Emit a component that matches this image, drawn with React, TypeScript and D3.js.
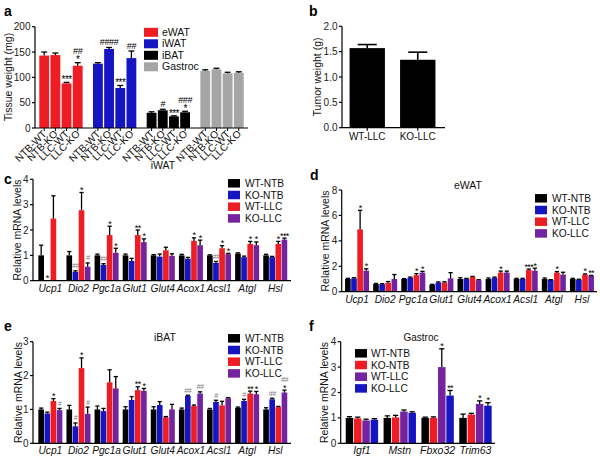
import React from "react";
import * as d3 from "d3";

const FONT = "Arial, 'Liberation Sans', Helvetica, sans-serif";
const RED = "#ee1d23";
const BLUE = "#1515c2";
const BLACK = "#000000";
const PURPLE = "#7322a0";
const GRAY = "#a5a5a5";
const HASH = "#808080";

// ---------- Panel a ----------
const tissuesA = ["eWAT", "iWAT", "iBAT", "Gastroc"];
const conditionsA = ["NTB-WT", "NTB-KO", "LLC-WT", "LLC-KO"];
const colorsA = [RED, BLUE, BLACK, GRAY];
const valuesA = [
  [143, 144, 88, 123],
  [127, 156, 79, 138],
  [30, 35, 23, 31],
  [113, 116, 108, 109],
];
const errorsA = [
  [7, 4, 2, 6],
  [2, 3, 5, 14],
  [2, 2, 1, 2],
  [2, 2, 2, 2],
];
const marksA = [
  ["", "", "***", "*|##"],
  ["", "####", "***", "##"],
  ["", "#", "***", "*|###"],
  ["", "", "", ""],
];
const ticksA = [0, 50, 100, 150, 200];

// ---------- Panel b ----------
const groupsB = ["WT-LLC", "KO-LLC"];
const valuesB = [1.57, 1.34];
const errorsB = [0.07, 0.15];
const ticksB = [0, 0.5, 1.0, 1.5, 2.0];

// ---------- Panels c, d, e ----------
const genesCDE = ["Ucp1", "Dio2", "Pgc1a", "Glut1", "Glut4", "Acox1", "Acsl1", "Atgl", "Hsl"];
const seriesCDE = ["WT-NTB", "KO-NTB", "WT-LLC", "KO-LLC"];
const colorsCDE = [BLACK, BLUE, RED, PURPLE];

const valuesC = [
  [1.0, 0.02, 2.45, 0.02],
  [1.0, 0.35, 2.78, 0.55],
  [1.0, 0.62, 1.8, 1.1],
  [1.0, 0.78, 1.8, 1.52],
  [1.0, 0.95, 1.2, 0.98],
  [1.0, 0.87, 1.57, 1.4],
  [1.0, 0.7, 1.28, 1.05],
  [1.07, 0.93, 1.45, 1.4],
  [1.0, 0.93, 1.45, 1.62],
];
const errorsC = [
  [0.4, 0.0, 0.9, 0.0],
  [0.15, 0.04, 0.7, 0.15],
  [0.05, 0.05, 0.35, 0.18],
  [0.05, 0.1, 0.2, 0.13],
  [0.03, 0.1, 0.12, 0.08],
  [0.04, 0.05, 0.12, 0.2],
  [0.02, 0.06, 0.1, 0.03],
  [0.03, 0.04, 0.1, 0.13],
  [0.04, 0.03, 0.1, 0.06],
];
const marksC = [
  ["", "*", "", ""],
  ["", "##", "*", "#"],
  ["", "##", "*", "*"],
  ["", "", "**", "*"],
  ["", "", "", ""],
  ["", "", "*", "*"],
  ["", "##", "*", "*"],
  ["", "", "*", "*"],
  ["", "", "*", "***"],
];
const ticksC = [0, 1, 2, 3, 4];

const valuesD = [
  [1.0, 1.05, 4.9, 1.65],
  [0.6, 0.6, 0.7, 1.0],
  [1.0, 1.1, 1.3, 1.5],
  [0.55, 0.72, 0.72, 1.05],
  [1.0, 1.0, 1.15, 0.9],
  [1.0, 1.1, 1.5, 1.5],
  [1.0, 1.0, 1.7, 1.65],
  [1.0, 0.92, 1.5, 1.35],
  [1.0, 0.95, 1.35, 1.25],
];
const errorsD = [
  [0.05, 0.05, 1.5, 0.15],
  [0.05, 0.03, 0.1, 0.35],
  [0.03, 0.05, 0.12, 0.1],
  [0.03, 0.05, 0.06, 0.45],
  [0.1, 0.05, 0.05, 0.05],
  [0.08, 0.05, 0.12, 0.12],
  [0.05, 0.05, 0.08, 0.2],
  [0.08, 0.03, 0.08, 0.18],
  [0.05, 0.03, 0.05, 0.03],
];
const marksD = [
  ["", "", "*", "*"],
  ["", "", "", ""],
  ["", "", "*", "*"],
  ["", "", "", ""],
  ["", "", "", ""],
  ["", "", "*", ""],
  ["", "", "***", "*"],
  ["", "", "*", ""],
  ["", "", "*", "**"],
];
const ticksD = [0, 2, 4, 6, 8];

const valuesE = [
  [1.0, 0.88, 1.25, 0.98],
  [1.0, 0.5, 2.22, 0.87],
  [1.0, 0.95, 1.8, 1.62],
  [1.0, 1.28, 1.57, 1.55],
  [1.0, 1.13, 0.77, 1.0],
  [1.0, 1.4, 1.1, 1.47],
  [1.0, 1.22, 1.12, 1.33],
  [1.05, 1.25, 1.47, 1.45],
  [1.0, 1.3, 1.07, 1.5],
];
const errorsE = [
  [0.04, 0.04, 0.07, 0.05],
  [0.12, 0.1, 0.3, 0.2],
  [0.1, 0.08, 0.37, 0.35],
  [0.08, 0.1, 0.1, 0.07],
  [0.08, 0.1, 0.02, 0.15],
  [0.04, 0.02, 0.03, 0.05],
  [0.03, 0.05, 0.12, 0.02],
  [0.02, 0.05, 0.07, 0.08],
  [0.05, 0.03, 0.02, 0.07],
];
const marksE = [
  ["", "", "*", "#"],
  ["", "#", "*", "#"],
  ["", "", "", ""],
  ["", "", "**", "*"],
  ["", "", "", ""],
  ["", "##", "", "##"],
  ["", "#", "", ""],
  ["", "#", "**", "*"],
  ["", "##", "", "*|##"],
];
const ticksE = [0, 1, 2, 3];

// ---------- Panel f ----------
const genesF = ["Igf1", "Mstn", "Fbxo32", "Trim63"];
const seriesF = ["WT-NTB", "KO-NTB", "WT-LLC", "KO-LLC"];
const colorsF = [BLACK, RED, PURPLE, BLUE];
const valuesF = [
  [1.0, 0.98, 0.9, 0.93],
  [1.0, 1.02, 1.25, 1.2],
  [1.0, 1.0, 3.0, 1.88],
  [1.0, 1.13, 1.55, 1.48],
];
const errorsF = [
  [0.05, 0.05, 0.05, 0.04],
  [0.08, 0.08, 0.06, 0.04],
  [0.03, 0.04, 0.72, 0.2],
  [0.15, 0.05, 0.12, 0.12],
];
const marksF = [
  ["", "", "", ""],
  ["", "", "", ""],
  ["", "", "*", "**"],
  ["", "", "*", "*"],
];
const ticksF = [0, 1, 2, 3, 4];

type PanelProps = {
  groups: string[];
  series: string[];
  values: number[][];
  errors: number[][];
  marks: string[][];
  colors: string[];
  colorByGroup?: boolean;
  axisX0: number;
  axisX1: number;
  bandX0: number;
  bandX1: number;
  padInner: number;
  padOuter: number;
  innerPad: number;
  yTop: number;
  yBottom: number;
  yMax: number;
  ticks: number[];
  rotatedLabels?: boolean;
  capFrac: number;
  hashColor: string;
  starSize: number;
  hashSize: number;
  labelSize?: number;
};

function GroupedBars(p: PanelProps) {
  const x0 = d3.scaleBand<string>().domain(p.groups).range([p.bandX0, p.bandX1]).paddingInner(p.padInner).paddingOuter(p.padOuter);
  const x1 = d3.scaleBand<string>().domain(p.series).range([0, x0.bandwidth()]).paddingInner(p.innerPad);
  const y = d3.scaleLinear().domain([0, p.yMax]).range([p.yBottom, p.yTop]);
  const bw = x1.bandwidth();
  const cap = bw * p.capFrac;
  const els: React.ReactNode[] = [];
  p.groups.forEach((g, gi) => {
    p.series.forEach((s, si) => {
      const v = p.values[gi][si];
      const e = p.errors[gi][si];
      const bx = (x0(g) as number) + (x1(s) as number);
      const cx = bx + bw / 2;
      const color = p.colorByGroup ? p.colors[gi] : p.colors[si];
      els.push(
        <rect key={`b${gi}-${si}`} x={bx} y={y(v)} width={bw} height={Math.max(0.8, y(0) - y(v))} fill={color} />
      );
      if (e > 0) {
        els.push(
          <g key={`e${gi}-${si}`} stroke="#000" strokeWidth={1.3}>
            <line x1={cx} x2={cx} y1={y(v)} y2={y(v + e)} />
            <line x1={cx - cap / 2} x2={cx + cap / 2} y1={y(v + e)} y2={y(v + e)} />
          </g>
        );
      }
      const m = p.marks[gi][si];
      if (m) {
        const lines = m.split("|");
        let cursor = y(v + e) - 1;
        lines.forEach((t, li) => {
          const isStar = t.startsWith("*");
          let base: number;
          if (isStar) {
            base = cursor + 0.3 * p.starSize - 1.2;
            cursor = base - 0.75 * p.starSize;
          } else {
            base = cursor - 1.5;
            cursor = base - 0.75 * p.hashSize;
          }
          els.push(
            <text
              key={`m${gi}-${si}-${li}`}
              x={cx}
              y={base}
              textAnchor="middle"
              fontSize={isStar ? p.starSize : p.hashSize}
              fontStyle={!isStar && p.hashColor !== "#000" ? "italic" : "normal"}
              fill={isStar ? "#000" : p.hashColor}
              letterSpacing={isStar ? -0.6 : -0.4}
            >
              {t}
            </text>
          );
        });
      }
      if (p.rotatedLabels) {
        els.push(
          <line key={`xt${gi}-${si}`} x1={cx} x2={cx} y1={p.yBottom} y2={p.yBottom + 3} stroke="#000" strokeWidth={1} />
        );
        els.push(
          <text
            key={`xl${gi}-${si}`}
            transform={`translate(${cx + 3},${p.yBottom + 6.5}) rotate(-45)`}
            textAnchor="end"
            fontSize={10.2}
            fill="#111"
          >
            {s}
          </text>
        );
      }
    });
    if (!p.rotatedLabels) {
      const gc = (x0(g) as number) + x0.bandwidth() / 2;
      els.push(
        <text key={`gl${gi}`} x={gc} y={p.yBottom + 11} textAnchor="middle" fontSize={p.labelSize || 10.5} fontStyle="italic" fill="#111">
          {g}
        </text>
      );
    }
  });
  return (
    <g>
      {els}
      <line x1={p.axisX0} x2={p.axisX1} y1={p.yBottom} y2={p.yBottom} stroke="#000" strokeWidth={1.2} />
      <line x1={p.axisX0} x2={p.axisX0} y1={p.yTop} y2={p.yBottom} stroke="#000" strokeWidth={1.2} />
      {p.ticks.map((t) => (
        <g key={`yt${t}`}>
          <line x1={p.axisX0 - 3} x2={p.axisX0} y1={y(t)} y2={y(t)} stroke="#000" strokeWidth={1.2} />
          <text x={p.axisX0 - 4.5} y={y(t)} dy="0.35em" textAnchor="end" fontSize={10} fill="#222">
            {String(t)}
          </text>
        </g>
      ))}
    </g>
  );
}

function Legend({ x, y0, step, items, colors, w, h, textX, fontSize }: any) {
  return (
    <g>
      {items.map((it: string, i: number) => (
        <g key={it}>
          <rect x={x} y={y0 + i * step - h / 2} width={w} height={h} fill={colors[i]} />
          <text x={textX} y={y0 + i * step} dy="0.35em" fontSize={fontSize} fill="#111">
            {it}
          </text>
        </g>
      ))}
    </g>
  );
}

function YTitle({ x, y, text }: { x: number; y: number; text: string }) {
  return (
    <text transform={`translate(${x},${y}) rotate(-90)`} textAnchor="middle" fontSize={10.5} fill="#111">
      {text}
    </text>
  );
}

function PanelLabel({ x, y, t }: { x: number; y: number; t: string }) {
  return (
    <text x={x} y={y} fontSize={14} fontWeight="bold" fill="#000">
      {t}
    </text>
  );
}

export default function App() {
  const xb = d3.scaleBand<string>().domain(groupsB).range([342, 443]).paddingInner(0.3).paddingOuter(0.15);
  const yb = d3.scaleLinear().domain([0, 2]).range([127.7, 26.3]);
  const cdeCommon = {
    groups: genesCDE,
    series: seriesCDE,
    colors: colorsCDE,
    padInner: 0.146,
    padOuter: 0.073,
    innerPad: 0.08,
    capFrac: 0.75,
    hashColor: HASH,
    starSize: 9,
    hashSize: 7,
    labelSize: 10.2,
  };
  return (
    <div style={{ position: "fixed", left: 0, top: 0 }}>
      <svg width={600} height={458} style={{ display: "block", fontFamily: FONT, background: "#fff" }}>
        <rect width={600} height={458} fill="#fff" />
        {/* Panel a */}
        <PanelLabel x={4} y={16} t="a" />
        <YTitle x={12} y={77} text="Tissue weight (mg)" />
        <GroupedBars
          groups={tissuesA}
          series={conditionsA}
          values={valuesA}
          errors={errorsA}
          marks={marksA}
          colors={colorsA}
          colorByGroup
          axisX0={35}
          axisX1={248}
          bandX0={35}
          bandX1={248}
          padInner={0.193}
          padOuter={0.08}
          innerPad={0.12}
          yTop={26.7}
          yBottom={128}
          yMax={200}
          ticks={ticksA}
          rotatedLabels
          capFrac={0.6}
          hashColor="#000"
          starSize={10}
          hashSize={9}
        />
        <Legend x={144} y0={32.3} step={11.5} items={tissuesA} colors={colorsA} w={14} h={9} textX={162} fontSize={10.5} />

        {/* Panel b */}
        <PanelLabel x={309} y={16} t="b" />
        <YTitle x={321} y={77} text="Tumor weight (g)" />
        {groupsB.map((g, i) => {
          const bx = xb(g) as number;
          const cx = bx + xb.bandwidth() / 2;
          const top = yb(valuesB[i] + errorsB[i]);
          return (
            <g key={g}>
              <rect x={bx} y={yb(valuesB[i])} width={xb.bandwidth()} height={yb(0) - yb(valuesB[i])} fill="#000" />
              <line x1={cx} x2={cx} y1={yb(valuesB[i])} y2={top} stroke="#000" strokeWidth={1.6} />
              <line x1={cx - 9.5} x2={cx + 9.5} y1={top} y2={top} stroke="#000" strokeWidth={1.6} />
              <line x1={cx} x2={cx} y1={yb(0)} y2={yb(0) + 3} stroke="#000" strokeWidth={1.2} />
              <text x={cx} y={140} textAnchor="middle" fontSize={10} fill="#111">
                {g}
              </text>
            </g>
          );
        })}
        <line x1={342} x2={445} y1={127.7} y2={127.7} stroke="#000" strokeWidth={1.2} />
        <line x1={342} x2={342} y1={26.3} y2={127.7} stroke="#000" strokeWidth={1.2} />
        {ticksB.map((t) => (
          <g key={`bt${t}`}>
            <line x1={339} x2={342} y1={yb(t)} y2={yb(t)} stroke="#000" strokeWidth={1.2} />
            <text x={337.5} y={yb(t)} dy="0.35em" textAnchor="end" fontSize={10} fill="#222">
              {d3.format(".1f")(t)}
            </text>
          </g>
        ))}

        {/* Panel c */}
        <PanelLabel x={4} y={184} t="c" />
        <text x={163} y={169} textAnchor="middle" fontSize={10.5} fill="#111">iWAT</text>
        <YTitle x={21} y={230} text="Relative mRNA levels" />
        <GroupedBars
          {...cdeCommon}
          values={valuesC}
          errors={errorsC}
          marks={marksC}
          axisX0={33}
          axisX1={291}
          bandX0={36.3}
          bandX1={289.3}
          yTop={179.3}
          yBottom={280.7}
          yMax={4}
          ticks={ticksC}
        />
        <Legend x={228} y0={183.3} step={11.7} items={seriesCDE} colors={colorsCDE} w={12} h={8.5} textX={245} fontSize={10.2} />

        {/* Panel d */}
        <PanelLabel x={310} y={180} t="d" />
        <text x={468} y={189} textAnchor="middle" fontSize={10.5} fill="#111">eWAT</text>
        <YTitle x={329} y={241} text="Relative mRNA levels" />
        <GroupedBars
          {...cdeCommon}
          values={valuesD}
          errors={errorsD}
          marks={marksD}
          axisX0={341.7}
          axisX1={597}
          bandX0={343}
          bandX1={596}
          yTop={190}
          yBottom={291.7}
          yMax={8}
          ticks={ticksD}
        />
        <Legend x={535} y0={198.3} step={11.7} items={seriesCDE} colors={colorsCDE} w={12} h={8.5} textX={552} fontSize={10.2} />

        {/* Panel e */}
        <PanelLabel x={4} y={331} t="e" />
        <text x={165} y={341} textAnchor="middle" fontSize={10.5} fill="#111">iBAT</text>
        <YTitle x={22} y={392.5} text="Relative mRNA levels" />
        <GroupedBars
          {...cdeCommon}
          values={valuesE}
          errors={errorsE}
          marks={marksE}
          axisX0={33}
          axisX1={291}
          bandX0={36.3}
          bandX1={289.3}
          yTop={341.7}
          yBottom={443.3}
          yMax={3}
          ticks={ticksE}
        />
        <Legend x={228} y0={338.3} step={11.7} items={seriesCDE} colors={colorsCDE} w={12} h={8.5} textX={245} fontSize={10.2} />

        {/* Panel f */}
        <PanelLabel x={309} y={331} t="f" />
        <text x={421} y={341} textAnchor="middle" fontSize={10} fill="#111">Gastroc</text>
        <YTitle x={328} y={392.5} text="Relative mRNA levels" />
        <GroupedBars
          groups={genesF}
          series={seriesF}
          values={valuesF}
          errors={errorsF}
          marks={marksF}
          colors={colorsF}
          axisX0={340.7}
          axisX1={495}
          bandX0={343}
          bandX1={494.4}
          padInner={0.145}
          padOuter={0.072}
          innerPad={0.1}
          yTop={341.7}
          yBottom={443.3}
          yMax={4}
          ticks={ticksF}
          capFrac={0.7}
          hashColor={HASH}
          starSize={9}
          hashSize={7}
          labelSize={10.5}
        />
        <Legend x={355} y0={353.3} step={11.7} items={seriesF} colors={colorsF} w={12} h={8.5} textX={371} fontSize={10.2} />
      </svg>
    </div>
  );
}
